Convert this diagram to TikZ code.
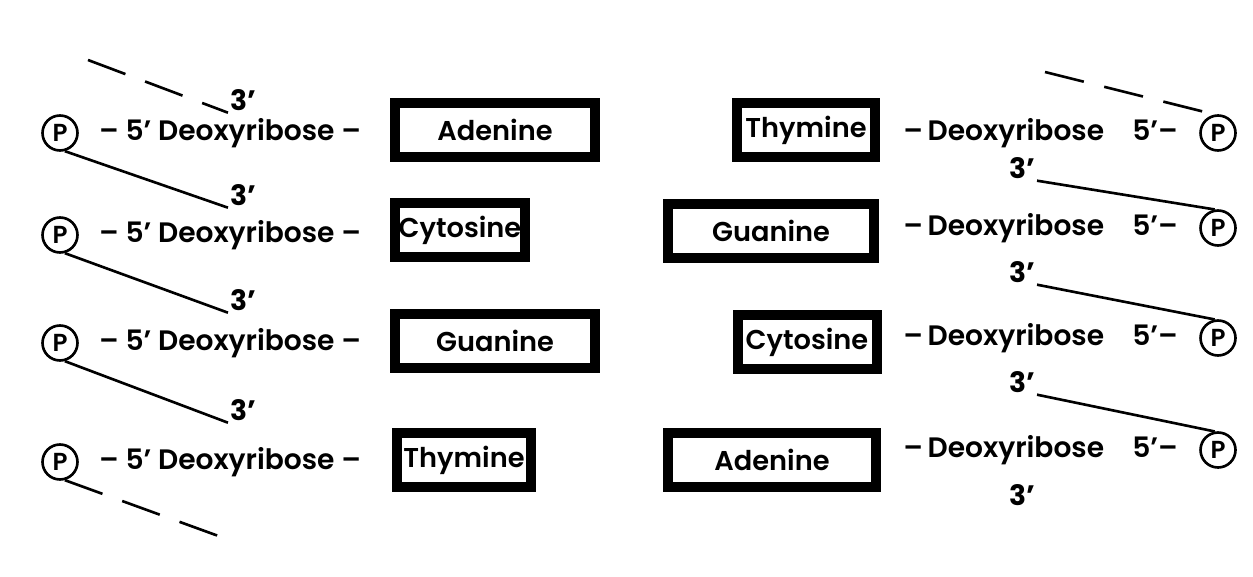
\documentclass[tikz,border=0pt]{standalone}
\usepackage{fontspec}
\setmainfont{Poppins}[UprightFont=* SemiBold,BoldFont=* Bold]
\usetikzlibrary{positioning}

\tikzset{
  phos/.style={circle,draw,line width=1.5pt,minimum size=0.7cm,inner sep=0pt,font=\fontsize{14}{16}\selectfont},
  basebox/.style={draw,line width=0.2cm,minimum height=1.1cm,inner sep=0pt,font=\fontsize{15.5}{18}\selectfont},
  sugar/.style={inner sep=0pt,font=\fontsize{16}{19}\selectfont},
  prime/.style={inner sep=1pt,font=\bfseries\fontsize{16}{19}\selectfont},
  strand/.style={line width=1.5pt},
  gap/.style={strand,dash pattern=on 0.8cm off 0.42cm}
}

\begin{document}
\begin{tikzpicture}[x=0.02cm,y=-0.02cm]
  \useasboundingbox (0,0) rectangle (1253,577);

  % left strand
  \node[phos] (pL1) at (60,133) {P};
  \node[phos] (pL2) at (60,235) {P};
  \node[phos] (pL3) at (60,343) {P};
  \node[phos] (pL4) at (60,462) {P};
  \node[sugar,right=0.4cm of pL1] (dL1) {– 5’ Deoxyribose –};
  \node[sugar,right=0.4cm of pL2] (dL2) {– 5’ Deoxyribose –};
  \node[sugar,right=0.4cm of pL3] (dL3) {– 5’ Deoxyribose –};
  \node[sugar,right=0.4cm of pL4] (dL4) {– 5’ Deoxyribose –};
  \node[prime] (tL1) at (243,100) {3’};
  \node[prime] (tL2) at (243,195) {3’};
  \node[prime] (tL3) at (243,300) {3’};
  \node[prime] (tL4) at (243,410) {3’};
  \node[basebox,minimum width=4cm] (bL1) at (495,130) {Adenine};
  \node[basebox,minimum width=2.6cm] (bL2) at (460,230) {Cytosine};
  \node[basebox,minimum width=4cm] (bL3) at (495,341) {Guanine};
  \node[basebox,minimum width=2.7cm] (bL4) at (464,460) {Thymine};

  \coordinate (sL) at (88,60);
  \coordinate (eL) at (235,542);
  \draw[gap] (sL) -- (tL1.south west);
  \draw[strand] (pL1.-75) -- (tL2.south west);
  \draw[strand] (pL2.-75) -- (tL3.south west);
  \draw[strand] (pL3.-75) -- (tL4.south west);
  \draw[gap] (pL4.-75) -- (eL);

  % right strand
  \node[phos] (pR1) at (1218,133) {P};
  \node[phos] (pR2) at (1218,228) {P};
  \node[phos] (pR3) at (1218,338) {P};
  \node[phos] (pR4) at (1218,450) {P};
  \node[sugar,left=0.42cm of pR1] (dR1) {–\,Deoxyribose\quad 5’–};
  \node[sugar,left=0.42cm of pR2] (dR2) {–\,Deoxyribose\quad 5’–};
  \node[sugar,left=0.42cm of pR3] (dR3) {–\,Deoxyribose\quad 5’–};
  \node[sugar,left=0.42cm of pR4] (dR4) {–\,Deoxyribose\quad 5’–};
  \node[prime] (tR1) at (1022,168) {3’};
  \node[prime] (tR2) at (1022,272) {3’};
  \node[prime] (tR3) at (1022,382) {3’};
  \node[prime] (tR4) at (1022,495) {3’};
  \node[basebox,minimum width=2.76cm] (bR1) at (806,130) {Thymine};
  \node[basebox,minimum width=4.14cm] (bR2) at (771,231) {Guanine};
  \node[basebox,minimum width=2.78cm] (bR3) at (807,342) {Cytosine};
  \node[basebox,minimum width=4.18cm] (bR4) at (772,460) {Adenine};

  \coordinate (sR) at (1045,72);
  \draw[gap] (sR) -- (pR1.100);
  \draw[strand] (tR1.south east) -- (pR2.100);
  \draw[strand] (tR2.south east) -- (pR3.100);
  \draw[strand] (tR3.south east) -- (pR4.100);
\end{tikzpicture}
\end{document}
